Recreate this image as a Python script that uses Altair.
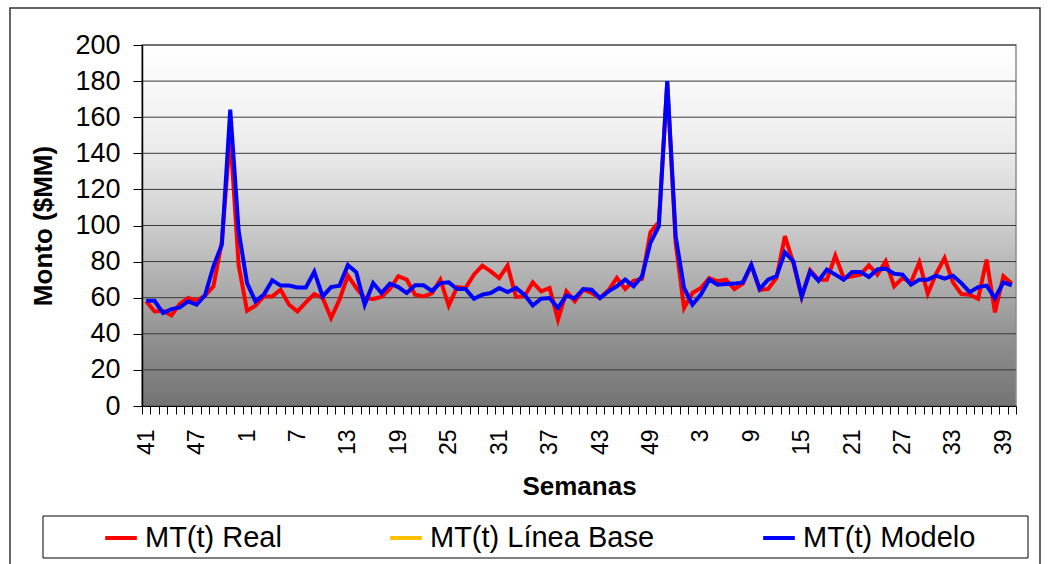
import altair as alt
import pandas as pd

# Week labels: weeks 41-52 of the first year, all 52 of the second, 1-40 of the third
weeks = list(range(41, 53)) + list(range(1, 53)) + list(range(1, 41))

# Weekly amounts ($MM)
real = [
    58.0, 52.4, 52.8, 50.2, 56.5, 59.8, 58.3, 61.1, 66.3, 91.0,
    150.0, 78.0, 52.8, 55.6, 60.7, 60.7, 64.4, 56.1, 52.4, 57.4,
    62.0, 59.8, 48.7, 58.9, 72.2, 65.4, 59.8, 59.3, 60.4, 64.8,
    71.9, 70.0, 61.7, 60.7, 62.4, 70.0, 55.6, 65.9, 65.4, 72.8,
    77.8, 74.6, 70.9, 77.8, 60.4, 60.7, 68.5, 63.5, 65.4, 47.8,
    63.5, 58.0, 64.4, 62.6, 59.8, 64.1, 70.9, 64.8, 69.4, 70.4,
    96.3, 101.9, 179.0, 90.4, 54.3, 62.6, 65.4, 70.9, 69.1, 70.0,
    64.8, 67.8, 78.0, 64.4, 64.8, 70.9, 94.1, 79.3, 60.4, 75.2,
    70.0, 70.0, 83.3, 70.9, 71.9, 72.8, 78.0, 72.8, 80.2, 66.3,
    70.9, 68.5, 79.6, 62.2, 73.3, 82.0, 68.5, 62.0, 61.7, 59.4,
    81.1, 51.9, 71.9, 67.8,
]
modelo = [
    58.3, 58.3, 51.5, 53.7, 54.6, 58.0, 56.1, 61.3, 77.4, 89.4,
    164.2, 97.0, 68.1, 58.0, 61.7, 69.6, 66.7, 66.7, 65.7, 65.7,
    74.4, 60.7, 65.9, 66.7, 78.1, 74.1, 56.1, 68.1, 62.6, 67.8,
    65.9, 62.6, 66.9, 66.9, 63.8, 68.1, 68.5, 64.8, 64.8, 59.4,
    61.7, 62.6, 65.4, 63.1, 65.4, 61.7, 55.7, 59.4, 59.8, 54.3,
    61.1, 59.6, 64.8, 64.4, 59.8, 63.5, 66.3, 70.0, 66.3, 71.9,
    90.4, 99.6, 180.0, 94.0, 65.4, 56.1, 61.7, 70.0, 67.2, 67.6,
    67.8, 68.5, 78.3, 64.8, 70.0, 71.9, 85.2, 80.2, 60.7, 74.6,
    69.4, 75.6, 72.8, 70.0, 74.3, 74.3, 71.5, 75.6, 76.1, 73.3,
    72.8, 67.2, 70.0, 70.0, 72.2, 70.6, 72.2, 68.1, 63.0, 65.9,
    66.7, 59.8, 68.5, 66.9,
]

series = ["MT(t) Real", "MT(t) Línea Base", "MT(t) Modelo"]
series_colors = ["#ff0000", "#ffc000", "#0000ff"]
y_ticks = [0, 20, 40, 60, 80, 100, 120, 140, 160, 180, 200]
label_step = 6

n = len(weeks)
idx = list(range(n))
df_real = pd.DataFrame({"i": idx, "v": real, "s": series[0]})
df_mod = pd.DataFrame({"i": idx, "v": modelo, "s": series[2]})
df_grid = pd.DataFrame({"v": y_ticks})
one_row = pd.DataFrame({"k": [0]})

FONT = "Liberation Sans"

x_scale = alt.Scale(domain=[-0.5, n - 0.5], nice=False, zero=False)
y_scale = alt.Scale(domain=[0, 200], nice=False, zero=True)
color_scale = alt.Scale(domain=series, range=series_colors)

# category boundaries carry the tick marks, category centres carry the labels
boundaries = [k - 0.5 for k in range(n + 1)]
label_pos = list(range(0, n, label_step))
week_lookup = "[" + ",".join(str(w) for w in weeks) + "]"

x_axis = alt.Axis(
    values=boundaries + label_pos,
    labelExpr=f"datum.value % 1 == 0 ? '' + {week_lookup}[datum.value] : ''",
    tickOpacity={"condition": {"test": "datum.value % 1 == 0", "value": 0}, "value": 1},
    labelAngle=270,
    labelFontSize=23,
    labelPadding=15,
    labelOverlap=False,
    labelFlush=False,
    labelBound=False,
    tickSize=8,
    tickColor="black",
    domainColor="black",
    domainWidth=1,
    grid=False,
    title="Semanas",
    titleFontSize=26,
    titleFontWeight="bold",
    titlePadding=19,
    zindex=1,
)

y_axis = alt.Axis(
    values=y_ticks,
    labelFontSize=27,
    labelPadding=13,
    tickSize=9,
    tickColor="black",
    domainColor="black",
    domainWidth=1.5,
    grid=False,
    title="Monto ($MM)",
    titleFontSize=26,
    titleFontWeight="bold",
    titlePadding=18,
    zindex=1,
)

legend = alt.Legend(
    title=None,
    orient="none",
    legendX=-39,
    legendY=475,
    direction="horizontal",
    columns=3,
    symbolType="stroke",
    symbolSize=1000,
    symbolStrokeWidth=4,
    labelFontSize=29,
    labelOffset=6,
    columnPadding=100,
    labelLimit=400,
    padding=0,
)

# plot-area background: white at the top fading to grey at the bottom
background = alt.Chart(one_row).mark_rect(
    fill=alt.LinearGradient(
        gradient="linear",
        stops=[
            alt.GradientStop(offset=0.0, color="#ffffff"),
            alt.GradientStop(offset=0.25, color="#efefef"),
            alt.GradientStop(offset=0.45, color="#d6d6d6"),
            alt.GradientStop(offset=0.65, color="#b0b0b0"),
            alt.GradientStop(offset=0.85, color="#8a8a8a"),
            alt.GradientStop(offset=1.0, color="#747474"),
        ],
        x1=0, x2=0, y1=0, y2=1,
    ),
    stroke="#8c8c8c",
    strokeWidth=1.5,
).encode(x=alt.value(0), x2=alt.value("width"), y=alt.value(0), y2=alt.value("height"))

# horizontal gridlines, one per y tick
gridlines = alt.Chart(df_grid).mark_rule(color="#3a3a3a", strokeWidth=1).encode(
    y=alt.Y("v:Q", scale=y_scale, axis=y_axis),
    x=alt.value(0),
    x2=alt.value("width"),
)

def series_line(df):
    return alt.Chart(df).mark_line(strokeWidth=4, strokeJoin="miter").encode(
        x=alt.X("i:Q", scale=x_scale, axis=x_axis),
        y=alt.Y("v:Q", scale=y_scale, axis=y_axis),
        color=alt.Color("s:N", scale=color_scale, legend=legend),
    )

line_real = series_line(df_real)
line_model = series_line(df_mod)

legend_box = alt.Chart(one_row).mark_rect(
    fillOpacity=0, stroke="black", strokeWidth=1
).encode(x=alt.value(-99), x2=alt.value(886), y=alt.value(471), y2=alt.value(513))

outer_frame = alt.Chart(one_row).mark_rect(
    fillOpacity=0, stroke="#333333", strokeWidth=1.5
).encode(x=alt.value(-132), x2=alt.value(898), y=alt.value(-37), y2=alt.value(525))

chart = (
    alt.layer(background, gridlines, line_real, line_model, legend_box, outer_frame)
    .properties(
        width=874,
        height=361,
        autosize=alt.AutoSizeParams(type="none"),
        padding={"left": 142, "top": 45, "right": 33, "bottom": 158},
        background="white",
    )
    .configure(font=FONT)
    .configure_view(strokeWidth=0)
    .configure_axis(labelColor="black", titleColor="black", labelFont=FONT, titleFont=FONT)
    .configure_legend(labelColor="black", labelFont=FONT)
)

chart.save("out.html", embed_options={"renderer": "svg", "actions": False})
